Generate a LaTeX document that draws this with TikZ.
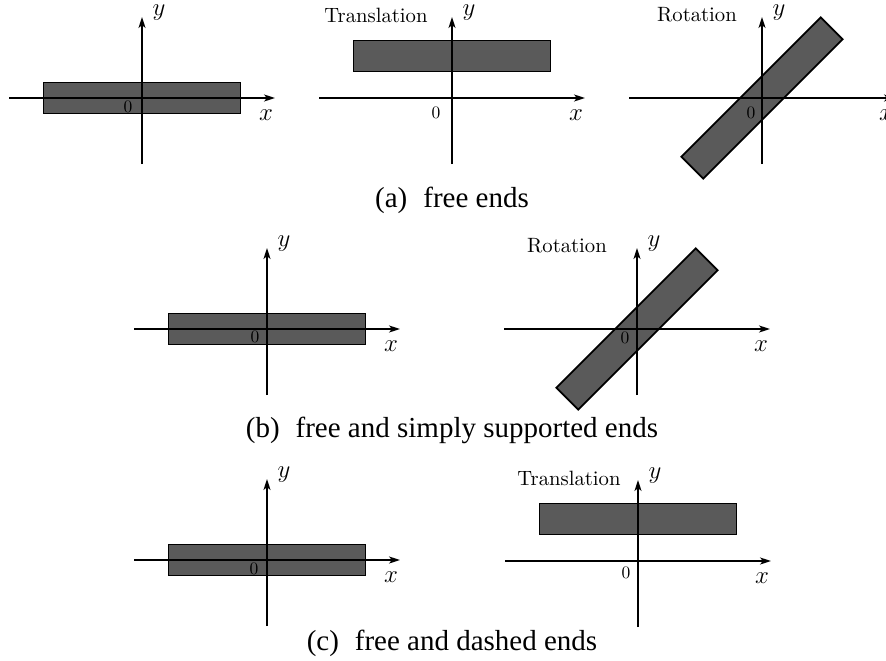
\documentclass[tikz,border=0pt]{standalone}
\usepackage{fontspec}
\newfontfamily\capfont{Liberation Serif}
\usetikzlibrary{arrows.meta}
\definecolor{beamgray}{HTML}{5A5A5A}

\begin{document}
\begin{tikzpicture}[x=1pt,y=-1pt,
  axis/.style={line width=1.8pt,-{Stealth[length=11pt,width=7pt,inset=3pt]}},
  beam/.style={draw=black,line width=1.8pt,fill=beamgray},
  axlabel/.style={font=\fontsize{24}{28}\selectfont,inner sep=0pt},
  zerolabel/.style={font=\fontsize{10}{12}\selectfont,inner sep=0pt,scale=1.75,transform shape},
  motion/.style={font=\fontsize{10}{12}\selectfont,inner sep=0pt,scale=2.07,transform shape},
  subcap/.style={font=\capfont\fontsize{29}{34}\selectfont,inner sep=0pt}]
  \useasboundingbox (0,0) rectangle (886,661);
  \clip (0,0) rectangle (886,661);
  % one panel per entry: name / origin / beam shift / beam angle / place of 0
  \foreach \n/\ox/\oy/\dy/\rot/\zx/\zy in {
    a1/142/98/0/0/-14/9,
    a2/452/98/-42/0/-16/15,
    a3/762/98/0/45/-11/15,
    b1/267/329/0/0/-12/8,
    b2/637/329/0/45/-12/9,
    c1/267/560/0/0/-13/9,
    c2/638/561/-42/0/-12/12
  }{
    \begin{scope}[shift={(\ox,\oy)}]
      \draw[beam,rotate=\rot] (-98.5,\dy-15.5) rectangle (98.5,\dy+15.5);
      \coordinate (xl-\n) at (-133,0);
      \coordinate (xr-\n) at (133,0);
      \coordinate (yb-\n) at (0,66);
      \coordinate (yt-\n) at (0,-81);
      \draw[axis] (xl-\n) -- (xr-\n);
      \draw[axis] (yb-\n) -- (yt-\n);
      \node[axlabel] (x-\n) at (124,17) {$x$};
      \node[axlabel] (y-\n) at (17,-85) {$y$};
      \node[zerolabel] (zero-\n) at (\zx,\zy) {0};
    \end{scope}
  }
  % motion labels
  \node[motion] (trans-a2) at (376,15) {Translation};
  \node[motion] (rot-a3) at (697,15) {Rotation};
  \node[motion] (rot-b2) at (567,246) {Rotation};
  \node[motion] (trans-c2) at (569,478) {Translation};
  % sub-captions
  \node[subcap] (cap-a) at (452,200) {(a)\hspace{0.55em}free ends};
  \node[subcap] (cap-b) at (452,430) {(b)\hspace{0.55em}free and simply supported ends};
  \node[subcap] (cap-c) at (452,643) {(c)\hspace{0.55em}free and dashed ends};
\end{tikzpicture}
\end{document}
